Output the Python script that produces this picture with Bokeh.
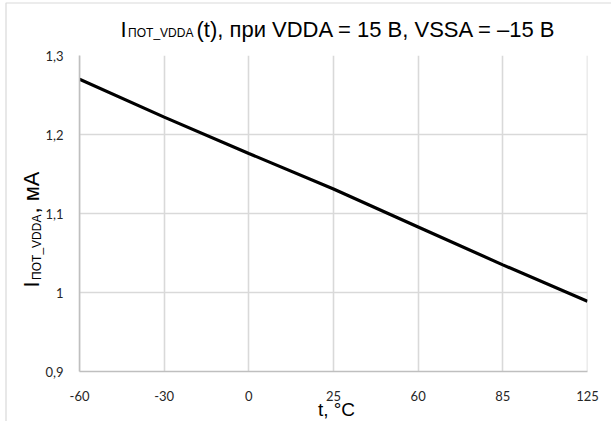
import math
from bokeh.plotting import figure
from bokeh.layouts import column
from bokeh.models import FactorRange, Range1d, Label, BoxAnnotation, FixedTicker
from bokeh.embed import file_html
from bokeh.resources import INLINE

# ---- data ----
temps = ["-60", "-30", "0", "25", "60", "85", "125"]
current = [1.270, 1.222, 1.176, 1.131, 1.083, 1.035, 0.989]
y_ticks = [0.9, 1.0, 1.1, 1.2, 1.3]
y_tick_labels = ["0,9", "1", "1,1", "1,2", "1,3"]

title_main = "I"
title_sub = "ПОТ_VDDA"
title_rest = "(t), при VDDA = 15 В, VSSA = –15 В"
ylab_main = "I"
ylab_sub = "ПОТ_VDDA"
ylab_rest = ", мА"
xlab = "t, °C"

TEXT_FONT = "Liberation Sans"
TICK_FONT = "Lato"
W, H = 611, 429

# ---- main chart ----
p = figure(
    width=W, height=H,
    x_range=FactorRange(factors=temps, range_padding=-0.4995, range_padding_units="absolute"),
    y_range=Range1d(0.9, 1.3),
    output_backend="svg", toolbar_location=None,
    min_border_left=79, min_border_right=24,
    min_border_top=55, min_border_bottom=58,
)
p.frame_align = False
p.title.visible = False
p.outline_line_color = None

p.line(x=temps, y=current, line_color="black", line_width=3.2)

p.xgrid.grid_line_color = "#d9d9d9"
p.xgrid.grid_line_width = 1.6
p.ygrid.grid_line_color = "#d9d9d9"
p.ygrid.grid_line_width = 1.6
p.ygrid.ticker = FixedTicker(ticks=y_ticks)

p.yaxis.ticker = FixedTicker(ticks=y_ticks)
p.yaxis.major_label_overrides = {t: l for t, l in zip(y_ticks, y_tick_labels)}
for ax in (p.xaxis[0], p.yaxis[0]):
    ax.axis_line_color = "#bfbfbf"
    ax.axis_line_width = 1.6
    ax.major_tick_line_color = None
    ax.minor_tick_line_color = None
    ax.major_tick_out = 0
    ax.major_tick_in = 0
    ax.major_label_text_font = TICK_FONT
    ax.major_label_text_font_size = "13px"
    ax.major_label_text_color = "#262626"
p.yaxis.major_label_standoff = 16
p.xaxis.major_label_standoff = 19

# ---- transparent overlay for texts outside the plot area ----
q = figure(
    width=W, height=H, x_range=Range1d(0, W), y_range=Range1d(0, H),
    x_axis_location=None, y_axis_location=None,
    output_backend="svg", toolbar_location=None,
    min_border=0, min_border_left=0, min_border_right=0,
    min_border_top=0, min_border_bottom=0,
)
q.frame_align = False
q.title.visible = False
q.xgrid.visible = False
q.ygrid.visible = False
q.outline_line_color = None
q.background_fill_color = None
q.border_fill_color = None
q.margin = (-H - 8, 0, 0, 0)

def lab(text, X, Y, size, angle=0.0, align="left"):
    q.add_layout(Label(x=X, y=H - Y, text=text, text_font=TEXT_FONT,
                       text_font_size=size, text_color="black",
                       text_baseline="alphabetic", text_align=align, angle=angle))

# chart-area border
q.add_layout(BoxAnnotation(left=5.5, right=W + 50, top=H - 10.5, bottom=-50,
                           fill_color=None, line_color="#808080", line_width=1.2))

# title with subscript
lab(title_main, 120, 37, "22px")
lab(title_sub, 127.6, 40.5, "12px")
lab(title_rest, 196, 37, "22px")

# y axis title with subscript (rotated)
lab(ylab_main, 31, 295, "22px", angle=math.pi / 2)
lab(ylab_sub, 36, 287.4, "12px", angle=math.pi / 2)
lab(ylab_rest, 31, 221, "22px", angle=math.pi / 2)

# x axis title
lab(xlab, 336, 417, "19px", align="center")

layout = column(p, q, spacing=0)
open("out.html", "w").write(file_html(layout, INLINE))
